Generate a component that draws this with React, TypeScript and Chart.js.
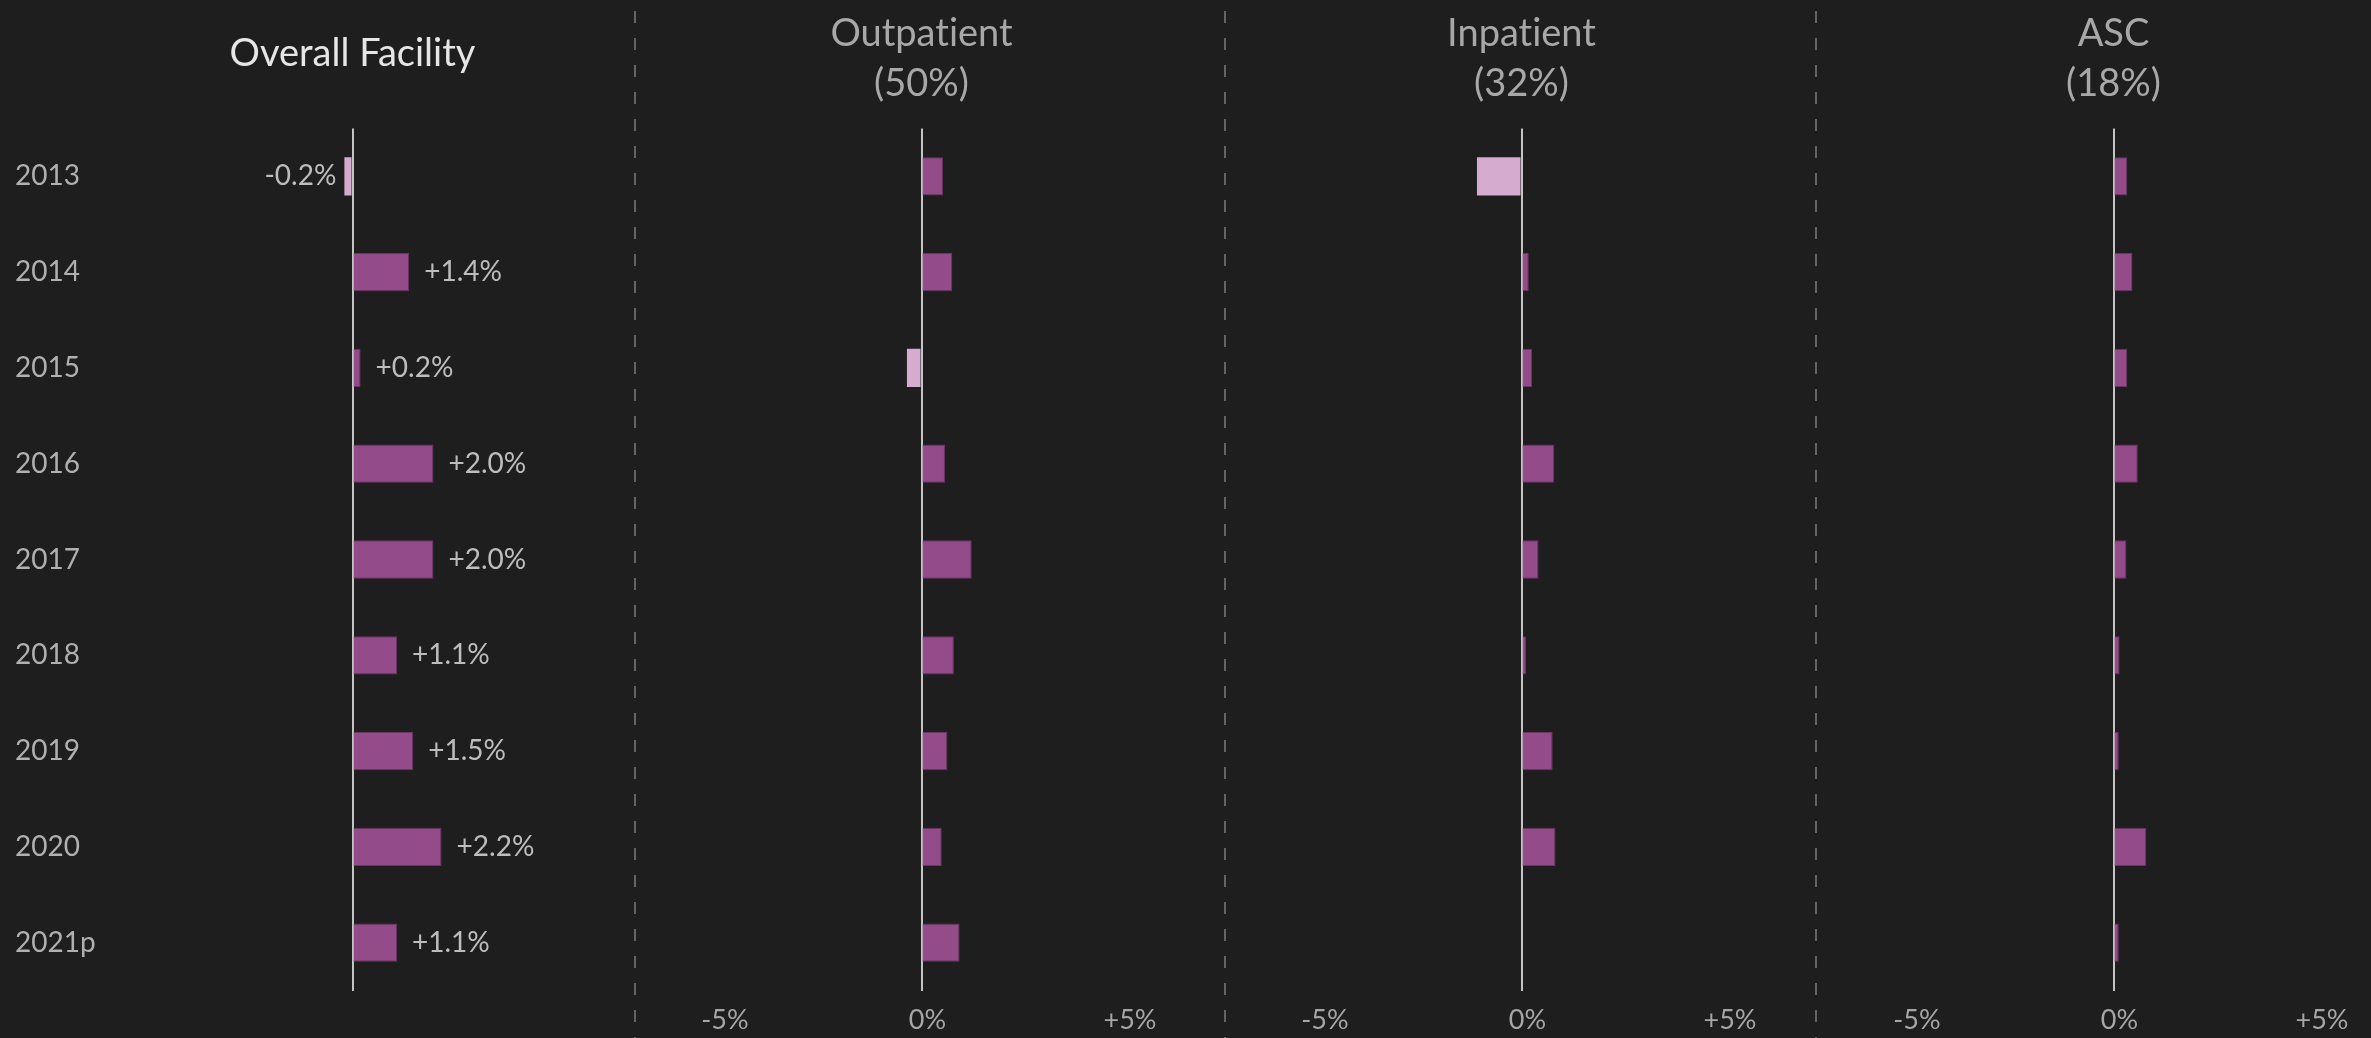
import React, { useEffect, useRef } from "react";
import { Chart, registerables } from "chart.js";

Chart.register(...registerables);

// ---------- data ----------
const years = ["2013", "2014", "2015", "2016", "2017", "2018", "2019", "2020", "2021p"];
const overallGrowth = [-0.2, 1.4, 0.2, 2.0, 2.0, 1.1, 1.5, 2.2, 1.1];
const outpatientGrowth = [0.53, 0.76, -0.36, 0.58, 1.24, 0.8, 0.64, 0.5, 0.94];
const inpatientGrowth = [-1.1, 0.18, 0.26, 0.81, 0.42, 0.11, 0.77, 0.84, 0.0];
const ascGrowth = [0.34, 0.47, 0.34, 0.6, 0.32, 0.15, 0.13, 0.81, 0.13];
const overallTitle = ["Overall Facility"];
const outpatientTitle = ["Outpatient", "(50%)"];
const inpatientTitle = ["Inpatient", "(32%)"];
const ascTitle = ["ASC", "(18%)"];
const xTickValues = [-5, 0, 5];

// ---------- styles ----------
const BG = "#1e1e1e";
const POS = "#934b89";
const POS_EDGE = "#6e3567";
const NEG = "#d6abd0";
const FONT = "Lato";
const CANVAS_H = 1038;
const X_AXIS_H = 47.4;

Chart.defaults.font.family = FONT;

const fmtPct = (v: number) => (v > 0 ? "+" : "") + v.toFixed(1) + "%";
const fmtTick = (v: number) => (v === 0 ? "0%" : (v > 0 ? "+" : "") + v + "%");

const noLigaturePlugin = {
  id: "noLigatures",
  beforeDraw(chart: any) {
    try {
      (chart.ctx as any).textRendering = "optimizeSpeed";
    } catch (e) {}
  },
};

const valueLabelPlugin = {
  id: "valueLabels",
  afterDatasetsDraw(chart: any) {
    const meta = chart.getDatasetMeta(0);
    const data = chart.data.datasets[0].data as number[];
    const ctx = chart.ctx;
    ctx.save();
    ctx.font = `28px ${FONT}`;
    ctx.fillStyle = "#bdbdbd";
    ctx.textBaseline = "middle";
    meta.data.forEach((bar: any, i: number) => {
      const v = data[i];
      if (v >= 0) {
        ctx.textAlign = "left";
        ctx.fillText(fmtPct(v), bar.x + 15, bar.y);
      } else {
        ctx.textAlign = "right";
        ctx.fillText(fmtPct(v), bar.x - 8, bar.y);
      }
    });
    ctx.restore();
  },
};

type PanelProps = {
  values: number[];
  title: string[];
  left: number;
  width: number;
  range: number;
  padLeft: number;
  yAxisWidth: number;
  showYears: boolean;
  showTicks: boolean;
  showValueLabels: boolean;
  titleColor: string;
  titlePadTop: number;
  titlePadBottom: number;
};

function Panel(p: PanelProps) {
  const ref = useRef<HTMLCanvasElement | null>(null);
  useEffect(() => {
    if (!ref.current) return;
    const chart = new Chart(ref.current, {
      type: "bar",
      data: {
        labels: years,
        datasets: [
          {
            data: p.values,
            backgroundColor: p.values.map((v) => (v < 0 ? NEG : POS)),
            borderColor: p.values.map((v) => (v < 0 ? NEG : POS_EDGE)),
            borderWidth: p.values.map((v) => (v < 0 ? 0 : 1)),
            barPercentage: 0.4,
            categoryPercentage: 1,
          },
        ],
      },
      options: {
        indexAxis: "y",
        responsive: false,
        animation: false,
        events: [],
        layout: { padding: { left: p.padLeft, top: 0, right: 0, bottom: 0 } },
        plugins: {
          legend: { display: false },
          tooltip: { enabled: false },
          title: {
            display: true,
            text: p.title,
            color: p.titleColor,
            fullSize: false,
            font: { family: FONT, size: 38, weight: "normal", lineHeight: 1.3 },
            padding: { top: p.titlePadTop, bottom: p.titlePadBottom },
          },
        },
        scales: {
          x: {
            type: "linear",
            min: -p.range,
            max: p.range,
            z: 1,
            border: { display: false },
            grid: {
              drawTicks: false,
              lineWidth: 2,
              color: (c: any) => (c.tick && c.tick.value === 0 ? "#c4c4c4" : "rgba(0,0,0,0)"),
            },
            ticks: {
              display: p.showTicks,
              color: "#a6a6a6",
              font: { family: FONT, size: 27 },
              padding: 13,
              labelOffset: 6,
              maxRotation: 0,
              callback: (v: any) => fmtTick(Number(v)),
            },
            afterBuildTicks: (s: any) => {
              s.ticks = xTickValues.map((v) => ({ value: v }));
            },
            afterFit: (s: any) => {
              s.height = X_AXIS_H;
            },
          },
          y: {
            display: p.showYears,
            grid: { display: false },
            border: { display: false },
            ticks: {
              color: "#b0b0b0",
              font: { family: FONT, size: 28 },
              crossAlign: "far",
              padding: 0,
            },
            afterFit: (s: any) => {
              s.width = p.yAxisWidth;
            },
          },
        },
      } as any,
      plugins: p.showValueLabels ? [noLigaturePlugin, valueLabelPlugin] : [noLigaturePlugin],
    });
    return () => chart.destroy();
  }, []);
  return (
    <canvas
      ref={ref}
      width={p.width}
      height={CANVAS_H}
      style={{ position: "absolute", left: p.left, top: 0, width: p.width, height: CANVAS_H }}
    />
  );
}

const dividerStyle = (left: number): React.CSSProperties => ({
  position: "absolute",
  left,
  top: 11,
  width: 2,
  height: CANVAS_H,
  background: "repeating-linear-gradient(to bottom, #646464 0px, #646464 12px, transparent 12px, transparent 27px)",
});

export default function App() {
  return (
    <div
      style={{
        position: "fixed",
        left: 0,
        top: 0,
        width: 2371,
        height: 1038,
        background: BG,
        overflow: "hidden",
      }}
    >
      <Panel
        values={overallGrowth}
        title={overallTitle}
        left={0}
        width={610}
        range={6.36}
        padLeft={15}
        yAxisWidth={80}
        showYears={true}
        showTicks={false}
        showValueLabels={true}
        titleColor="#e6e6e6"
        titlePadTop={29.3}
        titlePadBottom={49.7}
      />
      <Panel
        values={outpatientGrowth}
        title={outpatientTitle}
        left={638}
        width={567}
        range={7}
        padLeft={0}
        yAxisWidth={0}
        showYears={false}
        showTicks={true}
        showValueLabels={false}
        titleColor="#a8a8a8"
        titlePadTop={9.3}
        titlePadBottom={20.3}
      />
      <Panel
        values={inpatientGrowth}
        title={inpatientTitle}
        left={1238}
        width={567}
        range={7}
        padLeft={0}
        yAxisWidth={0}
        showYears={false}
        showTicks={true}
        showValueLabels={false}
        titleColor="#a8a8a8"
        titlePadTop={9.3}
        titlePadBottom={20.3}
      />
      <Panel
        values={ascGrowth}
        title={ascTitle}
        left={1830}
        width={567}
        range={7}
        padLeft={0}
        yAxisWidth={0}
        showYears={false}
        showTicks={true}
        showValueLabels={false}
        titleColor="#a8a8a8"
        titlePadTop={9.3}
        titlePadBottom={20.3}
      />
      <div style={dividerStyle(634)} />
      <div style={dividerStyle(1224)} />
      <div style={dividerStyle(1815)} />
    </div>
  );
}
